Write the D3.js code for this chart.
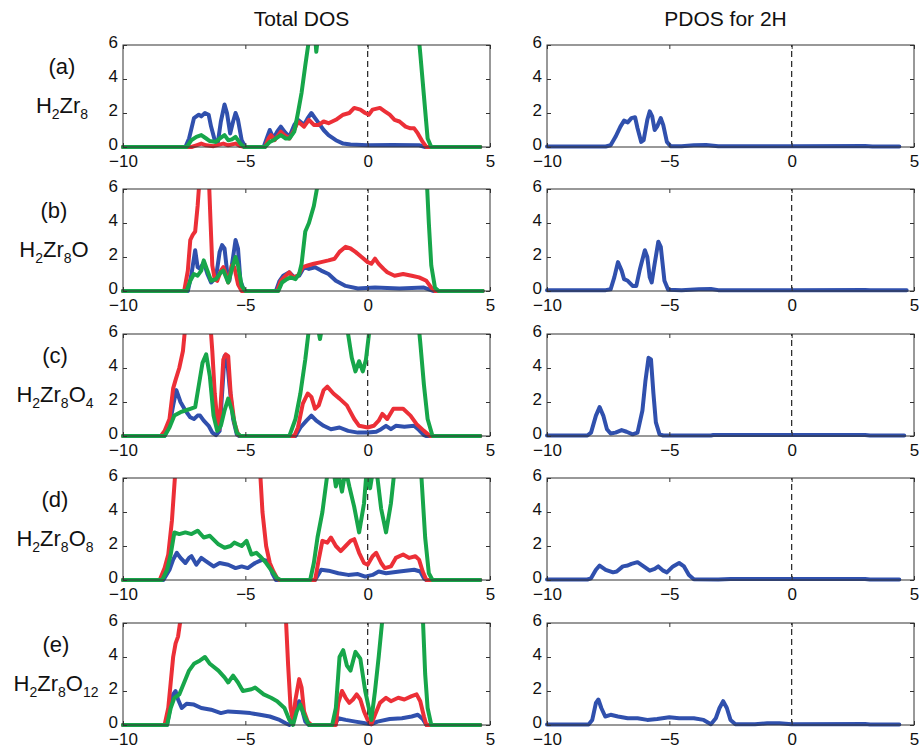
<!DOCTYPE html>
<html><head><meta charset="utf-8">
<script src="https://cdn.jsdelivr.net/npm/d3@7"></script>
<style>body{margin:0;background:#fff}svg{display:block}text{font-family:"Liberation Sans",Arial,sans-serif}</style>
</head><body><svg id="c" width="919" height="749"></svg>
<script>
// ---------------- data ----------------
const xTicks = [-10, -5, 0, 5];
const yTicks = [0, 2, 4, 6];
const columnTitles = ["Total DOS", "PDOS for 2H"];
const rowLabels = ["(a)", "(b)", "(c)", "(d)", "(e)"];
const formulas = [
  [["H",0],["2",1],["Zr",0],["8",1]],
  [["H",0],["2",1],["Zr",0],["8",1],["O",0]],
  [["H",0],["2",1],["Zr",0],["8",1],["O",0],["4",1]],
  [["H",0],["2",1],["Zr",0],["8",1],["O",0],["8",1]],
  [["H",0],["2",1],["Zr",0],["8",1],["O",0],["12",1]]
];

// (a) H2Zr8
const aBlue = [[-10,0],[-7.45,0],[-7.3,0.5],[-7.1,1.7],[-6.9,1.9],[-6.8,1.8],[-6.65,2.0],[-6.5,1.9],[-6.4,1.2],[-6.25,0.4],[-6.12,0.3],[-6.0,1.5],[-5.85,2.5],[-5.75,2.0],[-5.62,0.8],[-5.5,1.5],[-5.4,2.0],[-5.3,1.6],[-5.15,0.4],[-5.0,0],[-4.25,0],[-4.1,0.6],[-4.0,1.0],[-3.85,0.5],[-3.7,0.9],[-3.55,1.2],[-3.4,0.9],[-3.2,0.6],[-3.0,1.3],[-2.85,1.6],[-2.6,1.3],[-2.45,1.7],[-2.3,2.0],[-2.15,1.7],[-2.0,1.4],[-1.8,1.0],[-1.6,0.7],[-1.3,0.4],[-1.0,0.2],[-0.7,0.15],[0,0.1],[1.0,0.12],[2.1,0.1],[2.35,0],[4.6,0]];
const aRed = [[-10,0],[-7.2,0],[-7.0,0.1],[-6.8,0.2],[-6.6,0.1],[-6.3,0.05],[-5.9,0.2],[-5.7,0.1],[-5.4,0.2],[-5.2,0.05],[-5.0,0],[-4.2,0],[-4.05,0.5],[-3.95,0.7],[-3.8,0.4],[-3.55,0.9],[-3.4,0.7],[-3.2,0.5],[-3.0,1.0],[-2.85,1.5],[-2.6,1.2],[-2.4,1.6],[-2.2,1.3],[-2.0,1.3],[-1.8,1.5],[-1.6,1.4],[-1.3,1.6],[-1.0,1.9],[-0.75,2.0],[-0.55,2.3],[-0.3,2.2],[-0.1,2.0],[0.05,1.9],[0.2,2.2],[0.5,2.3],[0.7,2.1],[0.9,1.9],[1.1,1.6],[1.3,1.5],[1.55,1.2],[1.75,1.1],[1.9,1.1],[2.05,0.8],[2.25,0.3],[2.4,0],[4.6,0]];
const aGreen = [[-10,0],[-7.4,0],[-7.2,0.4],[-7.0,0.6],[-6.8,0.7],[-6.6,0.5],[-6.45,0.35],[-6.2,0.3],[-6.05,0.5],[-5.85,0.7],[-5.7,0.4],[-5.55,0.45],[-5.4,0.6],[-5.2,0.2],[-5.05,0],[-4.2,0],[-4.0,0.3],[-3.85,0.4],[-3.55,0.7],[-3.35,0.5],[-3.2,0.5],[-3.0,0.9],[-2.85,2.0],[-2.7,3.2],[-2.55,4.8],[-2.4,6.3],[-2.2,7.5],[-2.1,5.6],[-1.95,7.5],[-1.5,9],[1.8,9],[2.05,7],[2.15,5.5],[2.3,3],[2.45,0.5],[2.6,0],[4.6,0]];
const aPdos = [[-10,0.03],[-7.6,0.03],[-7.4,0.1],[-7.2,0.6],[-7.0,1.2],[-6.85,1.55],[-6.7,1.45],[-6.55,1.7],[-6.4,1.75],[-6.3,1.1],[-6.15,0.3],[-6.05,0.4],[-5.9,1.6],[-5.8,2.1],[-5.7,1.8],[-5.6,1.0],[-5.5,1.2],[-5.35,1.7],[-5.25,1.3],[-5.1,0.3],[-4.95,0.05],[-4.5,0.05],[-4.0,0.1],[-3.5,0.12],[-3.0,0.05],[0,0.05],[3,0.06],[3.3,0.03],[4.4,0.03]];

// (b) H2Zr8O
const bBlue = [[-10,0],[-7.35,0],[-7.2,1.0],[-7.05,2.4],[-6.95,1.4],[-6.85,1.3],[-6.7,1.7],[-6.55,1.0],[-6.4,0.5],[-6.2,0.8],[-6.05,2.3],[-5.95,2.7],[-5.85,2.5],[-5.75,1.2],[-5.65,0.6],[-5.5,2.0],[-5.4,3.0],[-5.3,2.5],[-5.2,0.6],[-5.05,0],[-3.75,0],[-3.6,0.6],[-3.45,0.9],[-3.2,1.1],[-3.0,0.8],[-2.8,0.9],[-2.6,1.4],[-2.4,1.3],[-2.15,1.4],[-1.9,1.2],[-1.6,1.0],[-1.3,0.6],[-0.9,0.3],[-0.4,0.15],[0.3,0.2],[1.3,0.15],[2.3,0.2],[2.5,0.1],[2.7,0],[4.7,0]];
const bRed = [[-10,0],[-7.5,0],[-7.35,1.2],[-7.25,3.0],[-7.15,3.3],[-7.05,3.5],[-6.95,5],[-6.85,7],[-6.6,9],[-6.5,7],[-6.42,4],[-6.35,1.5],[-6.25,0.7],[-6.15,0.6],[-6.0,1.2],[-5.9,1.4],[-5.8,1.0],[-5.7,0.5],[-5.55,1.5],[-5.45,1.4],[-5.3,0.4],[-5.15,0],[-3.7,0],[-3.55,0.6],[-3.35,0.9],[-3.2,1.1],[-3.05,0.8],[-2.85,0.9],[-2.65,1.4],[-2.45,1.5],[-2.2,1.6],[-1.9,1.7],[-1.6,1.8],[-1.35,1.9],[-1.15,2.3],[-0.9,2.6],[-0.7,2.5],[-0.5,2.3],[-0.25,2.0],[0,1.7],[0.15,1.6],[0.3,1.9],[0.45,1.6],[0.65,1.3],[0.8,1.1],[1.1,0.9],[1.45,1.0],[1.8,0.9],[2.1,0.8],[2.4,0.6],[2.6,0.2],[2.75,0],[4.7,0]];
const bGreen = [[-10,0],[-7.4,0],[-7.25,0.6],[-7.1,1.0],[-6.95,0.9],[-6.8,1.2],[-6.7,1.8],[-6.55,1.2],[-6.4,0.6],[-6.2,0.7],[-6.0,1.1],[-5.9,1.2],[-5.7,0.5],[-5.55,1.3],[-5.4,2.0],[-5.3,1.5],[-5.15,0.3],[-5.0,0],[-3.65,0],[-3.5,0.5],[-3.3,0.7],[-3.15,0.8],[-2.95,0.7],[-2.8,1.0],[-2.7,1.6],[-2.55,3.5],[-2.4,4.0],[-2.2,5.0],[-2.05,6.2],[-1.8,9],[2.2,9],[2.4,7],[2.5,4],[2.6,1.5],[2.75,0.2],[2.9,0],[4.7,0]];
const bPdos = [[-10,0.05],[-7.6,0.05],[-7.4,0.1],[-7.25,0.8],[-7.1,1.7],[-6.95,1.2],[-6.85,0.7],[-6.7,0.6],[-6.5,0.3],[-6.35,0.3],[-6.2,1.3],[-6.0,2.4],[-5.9,2.0],[-5.8,0.8],[-5.72,0.5],[-5.6,1.6],[-5.45,2.9],[-5.35,2.6],[-5.2,0.6],[-5.05,0.08],[-4.5,0.05],[-3.8,0.1],[-3.3,0.12],[-3.0,0.05],[0,0.05],[3,0.06],[3.2,0.04],[4.7,0.04]];

// (c) H2Zr8O4
const cBlue = [[-10,0],[-8.3,0],[-8.1,0.6],[-7.95,1.8],[-7.82,2.7],[-7.65,2.0],[-7.45,1.5],[-7.25,1.1],[-7.1,1.0],[-6.95,1.2],[-6.85,1.2],[-6.7,0.9],[-6.5,0.6],[-6.35,0.2],[-6.2,0.05],[-6.05,0.3],[-5.95,2.5],[-5.85,4.7],[-5.75,4.6],[-5.65,3.0],[-5.5,1.0],[-5.35,0.1],[-5.25,0],[-2.95,0],[-2.75,0.5],[-2.5,0.9],[-2.3,1.2],[-2.1,0.9],[-1.8,0.6],[-1.5,0.4],[-1.15,0.5],[-0.8,0.3],[-0.4,0.2],[0,0.2],[0.35,0.25],[0.55,0.4],[0.75,0.6],[0.95,0.4],[1.15,0.6],[1.5,0.55],[1.9,0.6],[2.1,0.35],[2.3,0.05],[2.4,0],[4.6,0]];
const cRed = [[-10,0],[-8.45,0],[-8.3,0.3],[-8.1,1.0],[-7.95,2.8],[-7.85,3.3],[-7.7,4.0],[-7.55,5.0],[-7.45,6.5],[-7.2,9],[-6.6,9],[-6.45,7],[-6.35,5],[-6.25,2.5],[-6.15,1.0],[-6.07,0.4],[-5.98,2.5],[-5.9,4.5],[-5.8,4.8],[-5.7,4.7],[-5.6,2.5],[-5.45,0.8],[-5.3,0.1],[-5.2,0],[-3.0,0],[-2.85,0.5],[-2.65,1.9],[-2.45,2.5],[-2.3,2.3],[-2.15,1.6],[-2.0,1.8],[-1.8,2.7],[-1.65,2.9],[-1.4,2.5],[-1.15,2.2],[-0.85,1.8],[-0.55,1.0],[-0.35,0.6],[0,0.5],[0.25,0.6],[0.45,0.9],[0.6,1.3],[0.8,1.0],[1.05,1.6],[1.45,1.6],[1.75,1.2],[2.0,0.7],[2.3,0.3],[2.55,0],[4.6,0]];
const cGreen = [[-10,0],[-8.3,0],[-8.1,0.5],[-7.9,1.2],[-7.65,1.4],[-7.45,1.5],[-7.25,1.6],[-7.05,1.7],[-6.9,3.0],[-6.75,4.3],[-6.6,4.8],[-6.45,3.5],[-6.3,1.2],[-6.15,0.3],[-6.0,0.6],[-5.85,1.5],[-5.7,2.2],[-5.55,1.5],[-5.35,0.2],[-5.2,0],[-3.2,0],[-2.95,1.0],[-2.75,2.5],[-2.55,4.5],[-2.4,6.3],[-2.2,8],[-2.05,6.5],[-1.95,5.7],[-1.85,6.5],[-1.6,8],[-0.95,8],[-0.8,6],[-0.65,4.6],[-0.5,3.8],[-0.35,4.4],[-0.2,3.8],[-0.07,4.5],[0.07,6.2],[0.3,8],[1.9,8],[2.05,7],[2.15,5.5],[2.3,3],[2.45,1],[2.65,0],[4.6,0]];
const cPdos = [[-10,0.03],[-8.35,0.03],[-8.2,0.2],[-8.0,1.2],[-7.85,1.7],[-7.7,1.2],[-7.55,0.4],[-7.4,0.15],[-7.2,0.2],[-6.95,0.35],[-6.75,0.25],[-6.5,0.1],[-6.3,0.2],[-6.1,1.5],[-5.98,3.2],[-5.85,4.6],[-5.75,4.5],[-5.65,2.5],[-5.55,0.8],[-5.4,0.1],[-5.25,0.03],[-3.3,0.03],[-3.2,0.06],[1.5,0.06],[3.0,0.06],[3.2,0.03],[4.6,0.03]];

// (d) H2Zr8O8
const dBlue = [[-10,0],[-8.35,0],[-8.1,0.6],[-7.95,1.2],[-7.8,1.6],[-7.65,1.3],[-7.45,1.0],[-7.3,1.3],[-7.2,1.4],[-7.0,0.9],[-6.8,1.3],[-6.6,1.1],[-6.3,0.8],[-6.05,1.0],[-5.7,0.9],[-5.4,0.7],[-5.15,0.8],[-4.9,0.7],[-4.6,1.0],[-4.3,1.2],[-4.05,1.1],[-3.9,0.4],[-3.75,0],[-2.15,0],[-1.9,0.6],[-1.6,0.55],[-1.2,0.4],[-0.8,0.3],[-0.4,0.35],[-0.1,0.2],[0.2,0.3],[0.45,0.5],[0.75,0.4],[1.3,0.5],[1.9,0.6],[2.15,0.5],[2.3,0.1],[2.4,0],[4.6,0]];
const dRed = [[-10,0],[-8.5,0],[-8.3,0.7],[-8.15,1.5],[-8.0,3.5],[-7.88,6],[-7.7,9],[-4.6,9],[-4.4,6.5],[-4.3,4.0],[-4.15,2.0],[-4.0,1.0],[-3.85,0.5],[-3.7,0.1],[-3.6,0],[-2.15,0],[-2.0,1.2],[-1.85,2.3],[-1.65,2.2],[-1.5,2.5],[-1.3,2.0],[-1.1,1.7],[-0.9,2.0],[-0.7,2.3],[-0.55,2.4],[-0.35,1.6],[-0.15,1.0],[0,0.9],[0.2,1.4],[0.35,1.6],[0.55,1.0],[0.7,0.7],[0.95,0.8],[1.15,1.3],[1.45,1.5],[1.7,1.3],[1.95,1.4],[2.1,1.2],[2.25,0.5],[2.4,0],[4.6,0]];
const dGreen = [[-10,0],[-8.4,0],[-8.2,0.6],[-8.05,1.5],[-7.9,2.8],[-7.7,2.7],[-7.45,2.8],[-7.2,2.7],[-6.95,2.9],[-6.7,2.5],[-6.45,2.6],[-6.1,2.1],[-5.85,1.9],[-5.6,2.0],[-5.45,2.2],[-5.15,2.0],[-4.95,2.3],[-4.75,1.5],[-4.55,1.6],[-4.4,1.4],[-4.15,1.0],[-3.9,0.5],[-3.7,0.1],[-3.55,0],[-2.35,0],[-2.2,1.0],[-2.05,2.5],[-1.85,4.0],[-1.65,6.2],[-1.45,7],[-1.3,5.5],[-1.2,6.3],[-1.05,5.2],[-0.9,6.5],[-0.75,5.5],[-0.55,4.3],[-0.35,2.8],[-0.15,4.5],[-0.05,6.3],[0.1,5.4],[0.2,6.3],[0.35,6.6],[0.55,4.2],[0.75,2.8],[0.95,4.5],[1.1,6.5],[1.3,8],[2.0,8],[2.2,6],[2.35,2.5],[2.5,0.4],[2.65,0],[4.6,0]];
const dPdos = [[-10,0.03],[-8.35,0.03],[-8.2,0.1],[-8.0,0.6],[-7.85,0.85],[-7.6,0.6],[-7.3,0.45],[-7.15,0.5],[-6.9,0.8],[-6.7,0.85],[-6.55,0.95],[-6.3,1.05],[-6.05,0.8],[-5.8,0.55],[-5.6,0.65],[-5.45,0.8],[-5.25,0.55],[-5.1,0.45],[-4.85,0.8],[-4.6,1.0],[-4.4,0.8],[-4.2,0.3],[-4.0,0.05],[-3.0,0.03],[-2.5,0.06],[3.0,0.06],[3.2,0.03],[4.4,0.03]];

// (e) H2Zr8O12
const eBlue = [[-10,0],[-8.2,0],[-8.05,1.2],[-7.95,1.8],[-7.85,2.0],[-7.75,1.5],[-7.6,1.0],[-7.4,1.25],[-7.1,1.2],[-6.8,1.0],[-6.4,0.9],[-6.0,0.7],[-5.7,0.8],[-5.2,0.75],[-4.8,0.7],[-4.4,0.6],[-4.0,0.5],[-3.6,0.3],[-3.35,0.1],[-3.2,0],[-3.0,0.5],[-2.8,1.4],[-2.7,1.0],[-2.55,0.2],[-2.4,0],[-1.35,0],[-1.2,0.4],[-0.9,0.3],[-0.5,0.2],[-0.1,0.1],[0.15,0.05],[0.4,0.2],[0.9,0.35],[1.4,0.4],[1.8,0.5],[2.05,0.6],[2.25,0.35],[2.4,0],[4.6,0]];
const eRed = [[-10,0],[-8.3,0],[-8.15,1.0],[-8.05,2.5],[-7.95,4.0],[-7.85,4.8],[-7.75,5.2],[-7.65,6.2],[-7.5,9],[-3.6,9],[-3.35,6.5],[-3.25,3.5],[-3.15,1.0],[-3.05,0.2],[-2.95,1.5],[-2.8,2.7],[-2.7,2.2],[-2.6,0.8],[-2.45,0.2],[-2.3,0],[-1.3,0],[-1.2,1.3],[-1.05,2.0],[-0.9,1.6],[-0.75,1.3],[-0.6,1.5],[-0.45,1.8],[-0.3,1.5],[-0.15,0.8],[0,0.3],[0.15,0.05],[0.3,0.6],[0.5,1.3],[0.75,1.6],[0.95,1.4],[1.25,1.6],[1.5,1.5],[1.8,1.7],[2.0,1.8],[2.15,1.4],[2.3,0.5],[2.4,0],[4.6,0]];
const eGreen = [[-10,0],[-8.2,0],[-8.05,1.0],[-7.9,1.6],[-7.7,1.8],[-7.5,2.5],[-7.3,3.2],[-7.1,3.6],[-6.85,3.8],[-6.65,4.0],[-6.45,3.6],[-6.1,3.2],[-5.85,2.8],[-5.7,2.5],[-5.5,2.9],[-5.3,2.5],[-5.1,2.0],[-4.75,2.1],[-4.6,2.2],[-4.25,1.8],[-3.95,1.6],[-3.7,1.4],[-3.4,1.0],[-3.2,0.3],[-3.05,0],[-2.9,0.8],[-2.75,1.2],[-2.6,0.6],[-2.4,0],[-1.45,0],[-1.3,1.0],[-1.15,4.0],[-1.0,4.4],[-0.85,3.5],[-0.7,3.2],[-0.5,4.3],[-0.3,3.9],[-0.1,2.0],[0.15,0.3],[0.3,2.0],[0.45,4.0],[0.6,6.2],[0.8,8],[2.0,8],[2.25,6.5],[2.35,3],[2.45,1],[2.6,0],[4.6,0]];
const ePdos = [[-10,0.03],[-8.3,0.03],[-8.15,0.3],[-8.0,1.3],[-7.9,1.5],[-7.78,1.0],[-7.62,0.5],[-7.4,0.6],[-7.1,0.5],[-6.7,0.4],[-6.3,0.4],[-5.9,0.3],[-5.5,0.35],[-5.0,0.45],[-4.6,0.4],[-4.0,0.4],[-3.6,0.3],[-3.3,0.05],[-3.1,0.4],[-2.95,1.0],[-2.8,1.4],[-2.65,1.0],[-2.5,0.3],[-2.3,0.05],[-1.5,0.05],[-1.0,0.1],[-0.5,0.1],[0,0.05],[3.0,0.06],[3.2,0.03],[4.4,0.03]];

const totalSeries = [
  [aBlue, aRed, aGreen],
  [bBlue, bRed, bGreen],
  [cBlue, cRed, cGreen],
  [dBlue, dRed, dGreen],
  [eBlue, eRed, eGreen]
];
const pdosSeries = [aPdos, bPdos, cPdos, dPdos, ePdos];

// ---------------- styling / layout ----------------
const COLORS = ["#3050ad", "#ec2f37", "#17a64a"];
const FONT = '"Liberation Sans", Arial, sans-serif';
const colX = [[123, 490], [547, 914]];
const rowTop = [45, 189, 334, 478, 623];
const PH = 102;
const labelCx = [62, 54, 55, 55, 56];

const svg = d3.select("#c");

columnTitles.forEach((t, i) => {
  svg.append("text")
    .attr("x", (colX[i][0] + colX[i][1]) / 2 - 5)
    .attr("y", 26)
    .attr("text-anchor", "middle")
    .attr("font-size", 21)
    .attr("fill", "#111")
    .text(t);
});

let clipId = 0;
function panel(x0, x1, top, series, colors) {
  const xs = d3.scaleLinear().domain([-10, 5]).range([x0, x1]);
  const ys = d3.scaleLinear().domain([0, 6]).range([top + PH, top]);
  const g = svg.append("g");
  const id = "clip" + (clipId++);
  svg.append("clipPath").attr("id", id).append("rect")
    .attr("x", x0 - 2).attr("y", top).attr("width", x1 - x0 + 4).attr("height", PH + 2.5);

  g.append("line")
    .attr("x1", xs(0)).attr("x2", xs(0)).attr("y1", ys(0)).attr("y2", ys(6))
    .attr("stroke", "#222").attr("stroke-width", 1.2).attr("stroke-dasharray", "6,4");

  const line = d3.line().x(d => xs(d[0])).y(d => ys(d[1]));
  const lg = g.append("g").attr("clip-path", `url(#${id})`);
  series.forEach((s, k) => {
    lg.append("path").attr("d", line(s)).attr("fill", "none")
      .attr("stroke", colors[k]).attr("stroke-width", 4)
      .attr("stroke-linejoin", "round").attr("stroke-linecap", "round");
  });

  const styleAxis = sel => {
    sel.select(".domain").remove();
    sel.selectAll("line").attr("stroke", "#333");
    sel.selectAll("text").attr("font-family", FONT).attr("font-size", 17).attr("fill", "#111");
  };
  g.append("g").attr("transform", `translate(0,${top + PH})`)
    .call(d3.axisBottom(xs).tickValues(xTicks).tickSize(-4).tickPadding(8).tickFormat(d3.format("d")))
    .call(styleAxis);
  g.append("g").attr("transform", `translate(0,${top})`)
    .call(d3.axisTop(xs).tickValues(xTicks).tickSize(-4).tickFormat(""))
    .call(styleAxis);
  const yAx = g.append("g").attr("transform", `translate(${x0},0)`)
    .call(d3.axisLeft(ys).tickValues(yTicks).tickSize(-4).tickPadding(5).tickFormat(d3.format("d")))
    .call(styleAxis);
  yAx.selectAll("text").attr("y", -3);

  g.append("g").attr("transform", `translate(${x1},0)`)
    .call(d3.axisRight(ys).tickValues(yTicks).tickSize(-4).tickFormat(""))
    .call(styleAxis);

  g.append("rect").attr("x", x0).attr("y", top).attr("width", x1 - x0).attr("height", PH)
    .attr("fill", "none").attr("stroke", "#333").attr("stroke-width", 1);
}

rowTop.forEach((top, r) => {
  panel(colX[0][0], colX[0][1], top, totalSeries[r], COLORS);
  panel(colX[1][0], colX[1][1], top, [pdosSeries[r]], [COLORS[0]]);

  svg.append("text").attr("x", labelCx[r]).attr("y", top + 29)
    .attr("text-anchor", "middle").attr("font-size", 22).attr("fill", "#111")
    .text(rowLabels[r]);

  const t = svg.append("text").attr("x", labelCx[r]).attr("y", top + 68)
    .attr("text-anchor", "middle").attr("font-size", 22).attr("fill", "#111");
  let shifted = false;
  formulas[r].forEach(([s, sub]) => {
    const ts = t.append("tspan").text(s);
    if (sub && !shifted) { ts.attr("dy", 6).attr("font-size", 14); shifted = true; }
    else if (sub) { ts.attr("font-size", 14); }
    else if (!sub && shifted) { ts.attr("dy", -6); shifted = false; }
  });
});
</script>
</body></html>
